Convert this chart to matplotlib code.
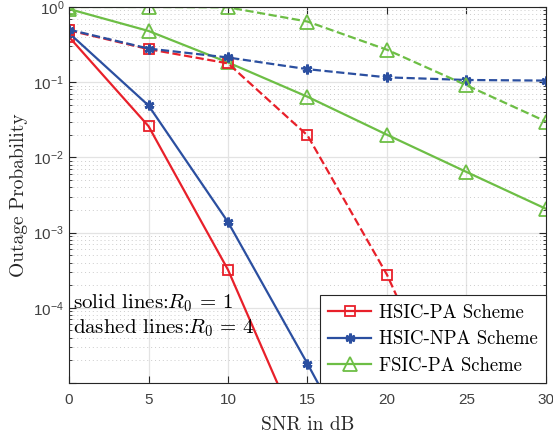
import numpy as np
import matplotlib
matplotlib.use("Agg")
import matplotlib.pyplot as plt
from matplotlib.ticker import LogLocator, FuncFormatter, NullFormatter

# SNR points (dB)
snr = [0, 5, 10, 15, 20, 25, 30]

# R0 = 1 (solid)
hsic_pa_r1 = [0.40, 0.026, 3.2e-4, 1.2e-6]
hsic_npa_r1 = [0.45, 0.049, 1.38e-3, 1.8e-5, 2.0e-7]
fsic_pa_r1 = [0.94, 0.48, 0.183, 0.064, 0.020, 6.4e-3, 2.07e-3]

# R0 = 4 (dashed)
hsic_pa_r4 = [0.49, 0.275, 0.178, 0.0196, 2.75e-4, 1.3e-6, 5e-9]
hsic_npa_r4 = [0.50, 0.28, 0.213, 0.149, 0.116, 0.107, 0.105]
fsic_pa_r4 = [1.0, 1.0, 0.99, 0.64, 0.27, 0.091, 0.030]

labels = ['HSIC-PA Scheme', 'HSIC-NPA Scheme', 'FSIC-PA Scheme']

red = '#E8202A'
blue = '#2B4FA0'
green = '#6DBE45'

plt.rcParams['mathtext.fontset'] = 'dejavusans'

fig = plt.figure(figsize=(5.53, 4.37), dpi=100)
ax = fig.add_axes([0.1248, 0.1236, 0.8625, 0.8604])

sq = dict(marker='s', ms=7, mfc='none', mew=1.3)
st = dict(marker=(6, 2, 0), ms=7, mew=2.0)
tr = dict(marker='^', ms=10, mfc='none', mew=1.3)

ax.plot(snr[:len(hsic_pa_r1)], hsic_pa_r1, '-', color=red, lw=1.6, label=labels[0], **sq)
ax.plot(snr[:len(hsic_npa_r1)], hsic_npa_r1, '-', color=blue, lw=1.6, label=labels[1], **st)
ax.plot(snr, fsic_pa_r1, '-', color=green, lw=1.6, label=labels[2], **tr)

ax.plot(snr, hsic_pa_r4, '--', color=red, lw=1.6, **sq)
ax.plot(snr, hsic_npa_r4, '--', color=blue, lw=1.6, **st)
ax.plot(snr, fsic_pa_r4, '--', color=green, lw=1.6, **tr)

ax.set_yscale('log')
ax.set_xlim(0, 30)
ax.set_ylim(1e-5, 1)
ax.set_xticks(snr)
ax.yaxis.set_major_locator(LogLocator(base=10, numticks=10))
ax.yaxis.set_minor_locator(LogLocator(base=10, subs=np.arange(2, 10), numticks=20))
ax.yaxis.set_minor_formatter(NullFormatter())


def fmt(v, pos):
    e = int(round(np.log10(v)))
    if e == -5:
        return ''
    return r'$\mathregular{10^{%d}}$' % e


ax.yaxis.set_major_formatter(FuncFormatter(fmt))

tick_color = '#404040'
for lab in ax.get_xticklabels() + ax.get_yticklabels():
    lab.set_fontfamily('Liberation Sans')
    lab.set_fontsize(11)
ax.tick_params(which='both', direction='in', top=True, right=True, colors='#262626',
               labelcolor=tick_color)
ax.tick_params(which='major', length=5, width=0.8)
ax.tick_params(which='minor', length=2.5, width=0.6)
ax.tick_params(axis='x', pad=7)

ax.grid(True, which='major', color='#E3E3E3', lw=0.9, ls='-')
ax.grid(True, which='minor', axis='y', color='#CCCCCC', lw=0.7, ls=(0, (1, 3)))
ax.set_axisbelow(True)
for s in ax.spines.values():
    s.set_color('#262626')
    s.set_linewidth(0.8)

ax.set_xlabel('SNR in dB', fontname='cmr10', fontsize=14, color='#262626', labelpad=7)
ax.set_ylabel('Outage Probability', fontname='cmr10', fontsize=14, color='#262626', labelpad=4)

ax.text(0.25, 1.15e-4, r'solid lines:$R_0\,=\,1$', fontname='cmr10', fontsize=15,
        math_fontfamily='cm', va='center')
ax.text(0.25, 5.4e-5, r'dashed lines:$R_0\,=\,4$', fontname='cmr10', fontsize=15,
        math_fontfamily='cm', va='center')

leg = ax.legend(loc='lower right', prop={'family': 'cmr10', 'size': 13.5},
                fancybox=False, framealpha=1, edgecolor='#262626',
                borderaxespad=0.0, handlelength=2.3, handletextpad=0.4,
                labelspacing=0.45, borderpad=0.45)
leg.get_frame().set_linewidth(0.8)

fig.savefig('out.png', dpi=100)
